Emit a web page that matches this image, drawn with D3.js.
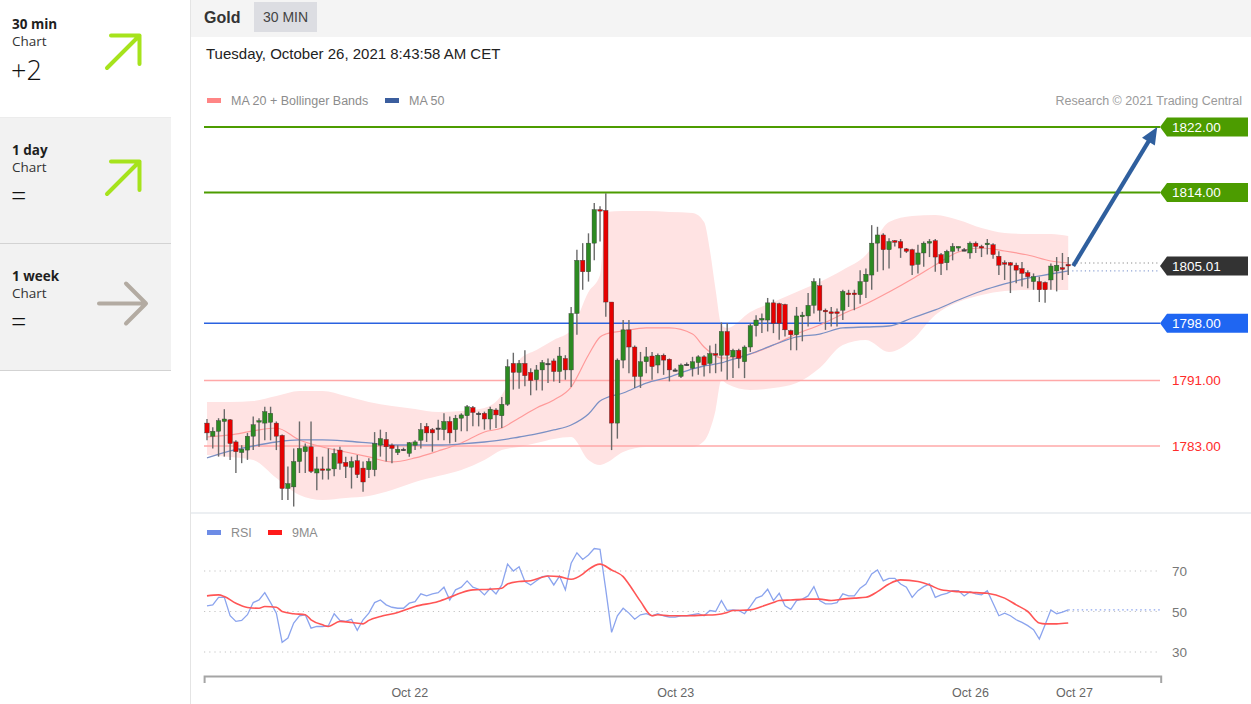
<!DOCTYPE html>
<html><head><meta charset="utf-8">
<script src="https://cdn.jsdelivr.net/npm/d3@7"></script>
<style>
body{margin:0;background:#fff;overflow:hidden;}
svg{display:block;}
</style></head>
<body>
<svg id="c" width="1251" height="704"></svg>
<script>
// ---------------- DATA ----------------
const openP = [1785.8,1784.2,1784.8,1786.0,1786.2,1783.5,1782.2,1782.5,1784.2,1786.0,
1785.8,1785.9,1785.8,1784.3,1777.8,1778.0,1781.1,1782.3,1782.9,1779.7,
1780.2,1780.1,1780.2,1782.5,1781.0,1780.4,1781.2,1780.3,1780.1,1780.1,
1783.1,1783.8,1783.1,1782.2,1782.6,1782.1,1783.1,1783.7,1785.4,1785.0,
1785.2,1785.0,1786.0,1785.0,1786.4,1786.7,1787.7,1787.0,1787.0,1786.3,
1787.4,1786.7,1788.1,1793.1,1792.0,1793.1,1792.0,1791.1,1792.3,1793.1,
1793.4,1792.1,1793.7,1792.3,1799.2,1805.7,1804.3,1807.8,1811.9,1811.8,
1800.6,1785.8,1793.5,1797.2,1795.1,1791.5,1793.3,1794.0,1792.9,1794.1,
1793.6,1792.3,1791.5,1793.0,1792.5,1793.2,1793.9,1793.1,1794.3,1794.1,
1797.0,1793.9,1794.7,1793.3,1795.1,1797.7,1798.4,1798.4,1800.5,1800.4,
1800.3,1797.1,1796.6,1798.8,1798.9,1800.2,1802.6,1799.6,1799.4,1799.4,
1799.6,1801.7,1801.7,1801.5,1803.1,1803.9,1807.8,1808.8,1807.0,1808.1,
1808.0,1807.1,1807.0,1805.2,1806.6,1807.8,1808.1,1806.4,1805.4,1806.8,
1807.2,1807.0,1806.6,1807.8,1807.4,1807.6,1807.6,1806.2,1805.4,1805.4,
1805.1,1804.7,1804.2,1803.1,1803.1,1803.0,1803.3,1804.4,1804.8,1805.2];
const highP = [1786.3,1785.3,1786.4,1787.5,1786.3,1783.7,1783.1,1784.6,1786.6,1786.4,
1787.8,1787.8,1786.0,1784.4,1780.5,1782.7,1786.0,1783.3,1786.0,1781.7,
1781.7,1782.7,1782.7,1782.9,1781.7,1781.7,1781.9,1781.1,1781.5,1784.7,
1785.0,1784.7,1783.3,1783.1,1782.8,1783.5,1783.7,1785.8,1785.8,1785.2,
1786.2,1787.0,1786.6,1786.8,1787.0,1788.0,1787.9,1787.2,1787.2,1787.8,
1787.6,1789.0,1793.6,1794.4,1793.5,1794.7,1792.5,1792.9,1793.5,1793.7,
1793.7,1795.1,1794.1,1800.0,1807.0,1807.8,1809.0,1812.7,1812.3,1813.9,
1800.6,1793.7,1798.4,1798.4,1795.3,1794.5,1795.1,1794.5,1794.3,1794.3,
1793.7,1792.5,1793.1,1793.2,1793.9,1794.1,1794.1,1795.3,1795.5,1798.1,
1798.0,1794.9,1794.9,1795.3,1798.0,1799.0,1799.2,1801.1,1800.9,1800.5,
1800.4,1797.2,1800.0,1799.4,1801.7,1803.5,1803.5,1799.8,1800.0,1799.8,
1802.1,1802.1,1802.1,1804.5,1804.7,1810.0,1809.8,1809.0,1808.4,1808.2,
1808.3,1807.2,1807.1,1807.6,1808.0,1808.3,1808.3,1806.6,1807.0,1807.8,
1807.4,1807.2,1808.0,1808.0,1807.6,1808.3,1807.8,1806.8,1805.7,1805.5,
1805.4,1805.5,1804.5,1804.1,1803.7,1803.1,1805.3,1806.1,1806.6,1806.1];
const lowP = [1783.7,1782.7,1781.7,1781.7,1781.3,1779.7,1780.9,1781.3,1782.5,1782.9,
1783.7,1783.7,1782.5,1776.4,1776.4,1775.6,1779.7,1779.7,1779.7,1777.6,
1778.9,1778.9,1779.3,1780.1,1779.1,1777.8,1779.1,1777.4,1779.1,1779.3,
1781.7,1781.1,1780.9,1781.9,1782.4,1781.7,1782.5,1782.7,1783.5,1782.3,
1783.7,1783.7,1783.3,1783.5,1784.8,1784.8,1785.4,1785.4,1785.0,1785.0,
1785.2,1785.2,1787.9,1789.9,1790.0,1790.3,1789.2,1789.8,1789.8,1790.7,
1790.9,1790.7,1791.1,1790.2,1796.6,1802.1,1803.1,1805.7,1808.0,1798.8,
1782.5,1783.9,1792.5,1791.9,1790.1,1790.1,1791.9,1791.1,1791.9,1791.7,
1790.9,1792.1,1791.3,1792.8,1791.5,1791.7,1791.5,1791.9,1791.9,1792.1,
1791.1,1791.3,1792.5,1791.3,1794.5,1796.4,1796.8,1797.0,1796.8,1796.0,
1796.4,1794.7,1794.7,1795.8,1797.6,1799.2,1798.2,1797.2,1797.6,1797.6,
1798.4,1800.0,1799.6,1800.4,1801.1,1802.1,1804.3,1804.5,1804.7,1807.4,
1806.0,1806.6,1803.9,1804.1,1804.9,1806.1,1804.3,1803.9,1804.5,1805.7,
1806.8,1806.8,1805.9,1806.6,1806.1,1806.4,1805.9,1803.9,1803.3,1801.7,
1802.9,1802.5,1802.3,1802.1,1800.6,1800.5,1802.1,1801.9,1803.3,1803.9];
const closeP = [1784.6,1784.8,1786.1,1786.3,1783.3,1782.3,1782.6,1784.2,1785.6,1786.1,
1787.2,1787.0,1784.2,1777.8,1778.4,1781.1,1782.7,1782.9,1779.9,1780.2,
1780.1,1780.2,1782.1,1780.9,1780.5,1781.1,1779.5,1778.6,1781.1,1783.3,
1783.9,1782.9,1782.7,1782.6,1782.6,1783.4,1783.5,1785.0,1784.6,1784.6,
1785.2,1786.0,1784.6,1786.4,1786.8,1787.8,1787.1,1787.0,1786.3,1787.5,
1786.8,1788.1,1792.7,1792.0,1793.1,1791.6,1791.0,1792.3,1793.2,1793.1,
1792.1,1794.0,1792.3,1799.2,1805.7,1804.3,1807.8,1811.9,1811.8,1800.6,
1785.8,1793.5,1797.2,1795.1,1791.5,1793.3,1793.9,1792.7,1794.1,1793.5,
1792.3,1792.3,1792.9,1793.0,1793.3,1793.9,1792.9,1794.3,1794.1,1797.0,
1794.1,1794.7,1793.7,1795.1,1797.7,1798.4,1798.6,1800.5,1798.0,1798.0,
1797.2,1796.6,1798.9,1799.0,1800.2,1803.1,1799.6,1799.4,1799.2,1799.2,
1801.9,1801.5,1801.5,1803.1,1804.0,1807.8,1808.8,1807.0,1808.0,1807.9,
1807.2,1806.8,1805.1,1806.6,1807.8,1808.0,1806.1,1805.3,1806.8,1807.4,
1807.4,1807.0,1807.8,1807.4,1807.2,1807.8,1806.4,1805.1,1805.3,1805.1,
1804.5,1804.1,1803.7,1803.7,1802.1,1802.1,1805.0,1805.1,1804.6,1805.01];

const bandIdx = [0,4,8,12,16,20,24,28,32,36,40,44,48,51,54,57,60,63,66,68,69,72,76,80,84,86,87,88,89,90,94,98,102,106,110,114,118,122,126,130,134,138,142,146,149];
const bbUpper = [1788.38,1788.38,1788.5,1789.11,1789.73,1789.73,1789.11,1788.38,1787.89,1787.53,1787.16,1787.28,1787.65,1789.24,1793.52,1794.74,1795.96,1797.18,1801.83,1803.91,1811.61,1811.73,1811.73,1811.61,1811.49,1810.39,1806.96,1802.07,1797.79,1797.43,1799.38,1800.61,1801.83,1803.05,1804.52,1806.35,1810.39,1811.12,1811.24,1810.63,1809.65,1809.04,1808.92,1808.92,1808.67];
const bbLower = [1781.90,1781.66,1781.29,1779.09,1777.01,1776.40,1776.65,1776.89,1777.62,1778.60,1779.33,1780.07,1781.29,1782.51,1782.88,1783.37,1783.86,1784.10,1781.29,1780.68,1780.92,1782.27,1782.88,1782.88,1782.88,1783.61,1784.96,1787.40,1791.07,1790.58,1789.85,1790.09,1790.70,1792.54,1795.35,1795.96,1794.49,1795.96,1799.02,1800.61,1801.46,1801.95,1802.07,1802.07,1802.07];
const ma20 = [1784.10,1784.35,1784.84,1785.20,1783.74,1782.88,1782.27,1781.66,1781.05,1781.54,1782.39,1783.37,1784.71,1785.20,1786.43,1787.65,1788.63,1790.21,1794.13,1796.33,1796.69,1797.06,1797.43,1797.43,1796.69,1795.10,1794.49,1794.01,1793.76,1793.76,1794.25,1795.35,1796.69,1797.79,1799.14,1800.36,1801.83,1803.42,1805.13,1806.72,1807.21,1806.84,1806.35,1805.62,1805.37];
const ma50 = [1781.54,1782.39,1783.00,1783.49,1783.74,1783.74,1783.61,1783.37,1783.12,1783.12,1783.12,1783.25,1783.49,1783.74,1784.10,1784.47,1784.96,1785.57,1786.91,1788.50,1788.87,1789.48,1790.70,1791.44,1792.42,1792.78,1792.90,1793.03,1793.15,1793.39,1794.25,1795.35,1796.33,1796.69,1797.43,1797.55,1797.67,1798.65,1799.63,1800.85,1801.95,1802.81,1803.54,1804.03,1804.40];

const rsi = [52.8,53.3,57.0,57.0,47.9,45.1,45.6,48.4,54.4,55.7,
59.3,54.4,49.2,34.8,36.9,44.3,47.9,48.4,41.8,42.6,
42.6,43.0,48.9,45.6,45.1,46.2,40.7,45.9,49.2,54.4,
55.7,53.3,52.1,51.6,51.6,54.1,54.9,58.7,57.7,58.7,
59.3,62.0,55.7,60.7,62.0,65.1,62.0,61.0,58.2,61.5,
58.7,63.1,73.4,70.0,72.1,64.8,63.1,65.2,67.2,67.5,
63.1,67.5,60.7,73.8,79.0,75.7,77.9,81.1,80.7,60.7,
39.7,47.9,51.6,49.2,46.2,48.4,48.9,47.9,48.9,47.9,
47.2,47.2,47.9,47.9,48.4,48.9,47.9,50.5,50.0,55.4,
50.5,50.8,50.5,48.9,52.5,56.6,57.7,61.0,55.4,59.0,
52.8,51.1,55.4,56.1,57.7,62.3,55.4,53.8,53.8,54.4,
58.7,57.7,57.7,61.5,63.6,68.5,70.5,65.1,66.4,66.4,
63.6,62.0,57.0,60.3,62.3,63.6,57.0,58.2,59.0,60.3,
60.3,57.7,59.8,58.7,58.2,60.2,54.1,47.9,49.2,47.9,
45.9,44.6,43.0,41.0,36.4,43.4,50.8,48.9,49.7,50.8];
const rsiMaIdx = [0,2,3,5,7,9,10,12,13,15,17,18,20,21,23,25,27,28,30,33,36,40,42,44,46,49,51,52,54,56,58,59,61,63,65,66,68,70,72,73,75,77,78,80,83,86,88,90,91,94,96,98,99,101,104,106,108,110,112,114,116,118,120,123,125,127,130,133,135,138,140,142,144,145,147,149];
const rsiMaVal = [57.7,58.2,57.4,54.1,52.0,51.6,52.5,52.1,50.0,48.9,48.4,45.9,43.4,42.6,45.1,44.6,43.9,45.6,47.5,49.5,52.5,54.9,57.0,59.3,60.7,61.0,61.5,63.6,64.8,65.2,66.9,67.5,67.2,65.9,68.5,70.8,73.4,70.5,67.2,63.5,55.0,47.9,48.4,47.9,47.9,48.2,48.4,49.5,50.5,50.8,52.5,54.4,55.4,55.7,56.1,56.1,55.4,56.1,56.6,57.0,59.8,63.6,65.6,64.8,63.1,60.7,59.8,59.3,59.0,56.6,53.3,50.0,44.3,43.9,43.9,44.3];

const xTickIdx = [35, 81, 132, 150];
const xTickLabels = ["Oct 22", "Oct 23", "Oct 26", "Oct 27"];
const rsiTicks = [30, 50, 70];

const levelValues = [1822, 1814, 1798, 1791, 1783];
const levelKinds = ["res", "res", "pivot", "sup", "sup"];
const lastPrice = 1805.01;
const targetPrice = 1822;

const sideTitles = ["30 min", "1 day", "1 week"];
const sideValues = ["+2", "=", "="];
const sideDirs = ["up", "up", "flat"];

// ---------------- DRAW ----------------
const FONT = "'Liberation Sans', Arial, sans-serif";
const SFONT = "'Open Sans', 'DejaVu Sans', sans-serif";
const svg = d3.select("#c");

// sidebar
svg.append("rect").attr("x",0).attr("y",118).attr("width",171).attr("height",252).attr("fill","#f2f2f2");
[117.5, 243.5, 370.5].forEach(v => svg.append("line").attr("x1",0).attr("x2",171).attr("y1",v).attr("y2",v)
  .attr("stroke", v < 118 ? "#ececec" : "#d3d3d3").attr("stroke-width",1));
sideTitles.forEach((t, k) => {
  const top = k * 126;
  const g = svg.append("g").attr("transform", `translate(0,${top})`);
  g.append("text").attr("x",12).attr("y",29).attr("font-family",SFONT).attr("font-weight",700)
    .attr("font-size",13.5).attr("fill","#1e1e1e").text(t);
  g.append("text").attr("x",12).attr("y",46).attr("font-family",SFONT)
    .attr("font-size",13.5).attr("fill","#333").text("Chart");
  g.append("text").attr("x",11).attr("y",80).attr("font-family",SFONT).attr("font-weight",300)
    .attr("font-size",27).attr("fill","#111").text(sideValues[k]);
  if (sideDirs[k] === "up") {
    g.append("path").attr("d","M107,68 L139.5,35.5 M111,35.5 L139.5,35.5 L139.5,64")
      .attr("fill","none").attr("stroke","#a6e31c").attr("stroke-width",4).attr("stroke-linecap","round").attr("stroke-linejoin","round");
  } else {
    g.append("path").attr("d","M99,51.5 L146,51.5 M126,31.5 L146,51.5 L126,71.5")
      .attr("fill","none").attr("stroke","#b3aba2").attr("stroke-width",4).attr("stroke-linecap","round").attr("stroke-linejoin","round");
  }
});

// header
svg.append("rect").attr("x",190).attr("y",0).attr("width",1061).attr("height",37).attr("fill","#f4f4f4");
svg.append("line").attr("x1",190.5).attr("x2",190.5).attr("y1",0).attr("y2",704).attr("stroke","#e4e4e4");
svg.append("text").attr("x",204).attr("y",23).attr("font-family",FONT).attr("font-weight",700).attr("font-size",16).attr("fill","#333").text("Gold");
svg.append("rect").attr("x",254).attr("y",2).attr("width",63).attr("height",30).attr("fill","#dcdde2");
svg.append("text").attr("x",285.5).attr("y",22).attr("text-anchor","middle").attr("font-family",FONT).attr("font-size",14).attr("fill","#444").text("30 MIN");
svg.append("text").attr("x",206).attr("y",59).attr("font-family",FONT).attr("font-size",15).attr("fill","#222").text("Tuesday, October 26, 2021 8:43:58 AM CET");

// legend
svg.append("rect").attr("x",207).attr("y",98).attr("width",14).attr("height",5).attr("fill","#ff8585");
svg.append("text").attr("x",231).attr("y",105).attr("font-family",FONT).attr("font-size",12.5).attr("fill","#8c8c8c").text("MA 20 + Bollinger Bands");
svg.append("rect").attr("x",385).attr("y",98).attr("width",14).attr("height",5).attr("fill","#3b5e9e");
svg.append("text").attr("x",409).attr("y",105).attr("font-family",FONT).attr("font-size",12.5).attr("fill","#8c8c8c").text("MA 50");
svg.append("text").attr("x",1242).attr("y",105).attr("text-anchor","end").attr("font-family",FONT).attr("font-size",12.5).attr("fill","#9a9a9a").text("Research © 2021 Trading Central");

// scales
const x = d3.scaleLinear().domain([-0.5, 165]).range([204.1, 1160.7]);
const y = d3.scaleLinear().domain([1783, 1822]).range([446, 127]);
const yR = d3.scaleLinear().domain([30, 70]).range([652, 571]);

const band = bandIdx.map((d,k) => ({i:d, up:bbUpper[k], lo:bbLower[k], m20:ma20[k], m50:ma50[k]}));

// bollinger band
svg.append("path").datum(band)
  .attr("d", d3.area().x(d=>x(d.i)).y0(d=>y(d.lo)).y1(d=>y(d.up)).curve(d3.curveMonotoneX))
  .attr("fill","#ffe3e3");

// levels
const LX1 = 204, LX2 = 1160;
const levelColor = {res:"#4c9c00", pivot:"#2a62e0", sup:"#ffa8a8"};
levelValues.forEach((v,k) => {
  svg.append("line").attr("x1",LX1).attr("x2",LX2).attr("y1",y(v)).attr("y2",y(v))
    .attr("stroke", levelColor[levelKinds[k]]).attr("stroke-width", levelKinds[k]==="res"?2:1.5);
});

// MA lines
svg.append("path").datum(band).attr("d", d3.line().x(d=>x(d.i)).y(d=>y(d.m20)).curve(d3.curveMonotoneX))
  .attr("fill","none").attr("stroke","#ff9a9a").attr("stroke-width",1.2);
svg.append("path").datum(band).attr("d", d3.line().x(d=>x(d.i)).y(d=>y(d.m50)).curve(d3.curveMonotoneX))
  .attr("fill","none").attr("stroke","#7b90c4").attr("stroke-width",1.3);

// dotted extensions
const lastI = closeP.length - 1;
svg.append("line").attr("x1",x(lastI)+4).attr("x2",LX2).attr("y1",y(ma20[ma20.length-1])).attr("y2",y(ma20[ma20.length-1]))
  .attr("stroke","#8a8a8a").attr("stroke-width",1.2).attr("stroke-dasharray","1.2,3");
svg.append("line").attr("x1",x(lastI)+4).attr("x2",LX2).attr("y1",y(ma50[ma50.length-1])).attr("y2",y(ma50[ma50.length-1]))
  .attr("stroke","#8ea3d4").attr("stroke-width",1.2).attr("stroke-dasharray","1.2,3");

// candles
const candles = closeP.map((c,i) => ({i, o:openP[i], h:highP[i], l:lowP[i], c}));
const cg = svg.append("g");
cg.selectAll("line.w").data(candles).join("line").attr("class","w")
  .attr("x1",d=>x(d.i)).attr("x2",d=>x(d.i)).attr("y1",d=>y(d.h)).attr("y2",d=>y(d.l))
  .attr("stroke","#6a6a6a").attr("stroke-width",1.4);
cg.selectAll("rect.b").data(candles).join("rect").attr("class","b")
  .attr("x",d=>x(d.i)-2.2).attr("width",4.4)
  .attr("y",d=>y(Math.max(d.o,d.c)))
  .attr("height",d=>Math.max(1.5, Math.abs(y(d.o)-y(d.c))))
  .attr("fill",d=> d.c>d.o ? "#2c8a22" : (d.c<d.o ? "#e60000" : "#444"))
  .attr("stroke","#3a3a3a").attr("stroke-width",0.4);

// forecast arrow
(function(){
  const sx = x(lastI)+5, sy = y(lastPrice), ex = x(164.4), ey = y(targetPrice);
  const ang = Math.atan2(ey-sy, ex-sx), hl = 17, hw = 7.5;
  const bx = ex - hl*Math.cos(ang), by = ey - hl*Math.sin(ang);
  svg.append("line").attr("x1",sx).attr("y1",sy).attr("x2",bx+2*Math.cos(ang)).attr("y2",by+2*Math.sin(ang))
    .attr("stroke","#2f5f9e").attr("stroke-width",4.2);
  const px = -Math.sin(ang), py = Math.cos(ang);
  svg.append("path").attr("d",`M${ex},${ey} L${bx+hw*px},${by+hw*py} L${bx-hw*px},${by-hw*py} Z`).attr("fill","#2f5f9e");
})();

// price labels
function tagLabel(v, fill){
  const cy = y(v);
  svg.append("path").attr("d",`M1160,${cy} L1167,${cy-9.5} L1248,${cy-9.5} L1248,${cy+9.5} L1167,${cy+9.5} Z`).attr("fill",fill);
  svg.append("text").attr("x",1172).attr("y",cy+4.8).attr("font-family",FONT).attr("font-size",13.5).attr("fill","#fff").text(v.toFixed(2));
}
levelValues.forEach((v,k) => {
  if (levelKinds[k]==="res") tagLabel(v, "#4c9c00");
  else if (levelKinds[k]==="pivot") tagLabel(v, "#1f66f2");
  else svg.append("text").attr("x",1172).attr("y",y(v)+4.8).attr("font-family",FONT).attr("font-size",13.5).attr("fill","#ff2b2b").text(v.toFixed(2));
});
tagLabel(lastPrice, "#333333");

// separator
svg.append("rect").attr("x",191).attr("y",512).attr("width",1060).attr("height",2).attr("fill","#eceff2");

// RSI panel
svg.append("rect").attr("x",207).attr("y",530).attr("width",14).attr("height",5).attr("fill","#6d8ce6");
svg.append("text").attr("x",231).attr("y",537).attr("font-family",FONT).attr("font-size",12.5).attr("fill","#8c8c8c").text("RSI");
svg.append("rect").attr("x",268).attr("y",530).attr("width",14).attr("height",5).attr("fill","#ff1a1a");
svg.append("text").attr("x",292).attr("y",537).attr("font-family",FONT).attr("font-size",12.5).attr("fill","#8c8c8c").text("9MA");

rsiTicks.forEach(t => {
  svg.append("line").attr("x1",LX1).attr("x2",LX2).attr("y1",yR(t)).attr("y2",yR(t))
    .attr("stroke","#c4c4c4").attr("stroke-width",1.2).attr("stroke-dasharray","1.2,4");
  svg.append("text").attr("x",1172).attr("y",yR(t)+5).attr("font-family",FONT).attr("font-size",13.5).attr("fill","#777").text(t);
});
svg.append("path").datum(rsi).attr("d", d3.line().x((d,i)=>x(i)).y(d=>yR(d)))
  .attr("fill","none").attr("stroke","#8ba4ee").attr("stroke-width",1.3);
svg.append("line").attr("x1",x(lastI)).attr("x2",LX2).attr("y1",yR(rsi[lastI])).attr("y2",yR(rsi[lastI]))
  .attr("stroke","#8ba4ee").attr("stroke-width",1.3).attr("stroke-dasharray","1.5,3");
svg.append("path").datum(rsiMaIdx.map((d,k)=>({i:d, v:rsiMaVal[k]})))
  .attr("d", d3.line().x(d=>x(d.i)).y(d=>yR(d.v)).curve(d3.curveMonotoneX))
  .attr("fill","none").attr("stroke","#ff5555").attr("stroke-width",1.6);

// x axis
const ax = svg.append("g").attr("transform","translate(0,676)")
  .call(d3.axisBottom(x).tickValues(xTickIdx).tickFormat((d,i)=>xTickLabels[i]).tickSizeInner(0).tickSizeOuter(7).tickPadding(12));
ax.select(".domain").attr("stroke","#a5a5a5").attr("stroke-width",2);
ax.selectAll("text").attr("font-family",FONT).attr("font-size",12.5).attr("fill","#666");
</script>
</body></html>
